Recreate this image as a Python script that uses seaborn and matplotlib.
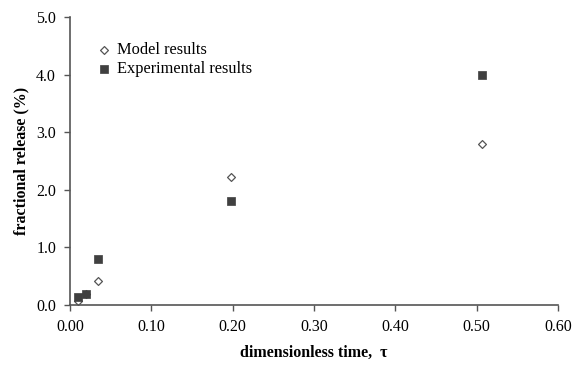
import matplotlib
matplotlib.use("Agg")
import matplotlib.pyplot as plt
import seaborn as sns
import pandas as pd

# data
model_tau = [0.010, 0.020, 0.035, 0.198, 0.507]
model_release = [0.07, 0.19, 0.42, 2.22, 2.80]
exp_tau = [0.010, 0.020, 0.035, 0.198, 0.507]
exp_release = [0.14, 0.19, 0.80, 1.80, 4.00]
x_ticks = [0.0, 0.1, 0.2, 0.3, 0.4, 0.5, 0.6]
y_ticks = [0.0, 1.0, 2.0, 3.0, 4.0, 5.0]

sns.set_style("white")
plt.rcParams['font.family'] = ['Liberation Serif', 'DejaVu Serif']
plt.rcParams['text.color'] = 'black'
plt.rcParams['axes.labelcolor'] = 'black'
plt.rcParams['xtick.color'] = 'black'
plt.rcParams['ytick.color'] = 'black'

model_df = pd.DataFrame({"tau": model_tau, "release": model_release})
exp_df = pd.DataFrame({"tau": exp_tau, "release": exp_release})

fig = plt.figure(figsize=(5.73, 3.70), dpi=100)
ax = fig.add_axes([0.122, 0.176, 0.852, 0.778])

sns.scatterplot(data=model_df, x="tau", y="release", ax=ax, marker="D", s=16,
                facecolor="white", edgecolor="#555555", linewidth=0.9,
                label="Model results", zorder=2)
sns.scatterplot(data=exp_df, x="tau", y="release", ax=ax, marker="s", s=34,
                color="#404040", edgecolor="#404040", linewidth=0.5,
                label="Experimental results", zorder=3)

ax.set_xlim(0, 0.6)
ax.set_ylim(0, 5.0)
ax.set_xticks(x_ticks)
ax.set_yticks(y_ticks)
ax.set_xticklabels([f"{v:.2f}" for v in x_ticks], fontsize=11.5)
ax.set_yticklabels([f"{v:.1f}" for v in y_ticks], fontsize=11.5)
ax.tick_params(axis="both", direction="out", length=4, width=1,
               bottom=True, left=True, pad=6, colors="black")
ax.tick_params(axis="both", color="#555555")

for s in ["top", "right"]:
    ax.spines[s].set_visible(False)
for s in ["left", "bottom"]:
    ax.spines[s].set_color("#555555")
    ax.spines[s].set_linewidth(1.2)

ax.set_xlabel("dimensionless time,  τ", fontsize=11.5, fontweight="bold", labelpad=7)
ax.set_ylabel("fractional release (%)", fontsize=11.5, fontweight="bold", labelpad=5)

leg = ax.legend(loc="upper left", bbox_to_anchor=(0.022, 0.965), frameon=False,
                fontsize=11.8, handletextpad=0.3, labelspacing=0.22, handlelength=1.0)

fig.savefig("out.png", dpi=100)
